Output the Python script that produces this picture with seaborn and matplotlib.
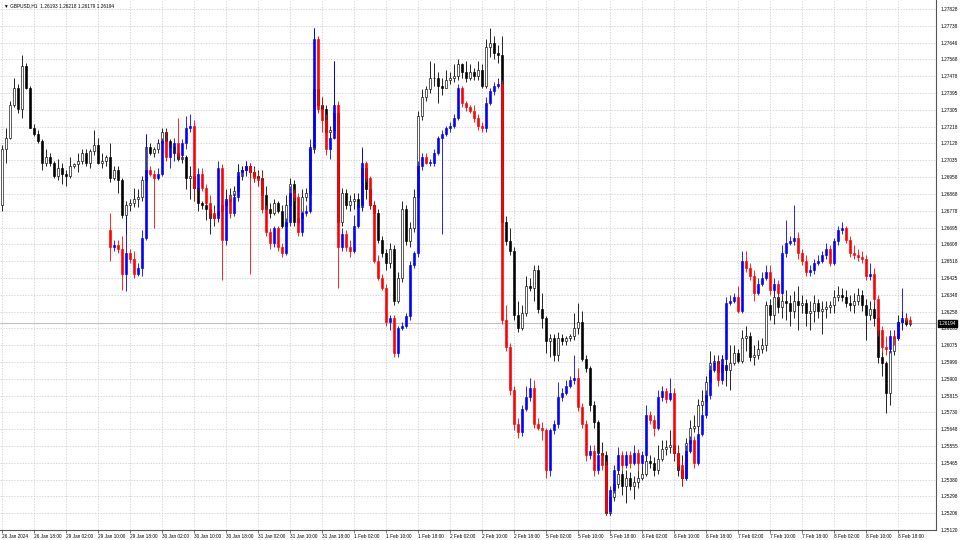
import numpy as np
import matplotlib
matplotlib.use("Agg")
import matplotlib.pyplot as plt
import matplotlib.transforms as mtransforms
import seaborn as sns


SYMBOL = "GBPUSD,H1"
LAST_BAR = ["1.26193", "1.26218", "1.26179", "1.26194"]
LAST_PRICE = 1.26194

PRICE_LABELS = ["1.27828", "1.27738", "1.27646", "1.27568", "1.27478", "1.27395", "1.27305", "1.27218",
                "1.27128", "1.27035", "1.26958", "1.26868", "1.26778", "1.26695", "1.26608", "1.26518",
                "1.26425", "1.26348", "1.26258", "1.26165", "1.26075", "1.25990", "1.25900", "1.25815",
                "1.25730", "1.25648", "1.25555", "1.25465", "1.25380", "1.25298", "1.25206", "1.25120"]

TIME_LABELS = ["26 Jan 2024", "26 Jan 18:00", "29 Jan 02:00", "29 Jan 10:00", "29 Jan 18:00",
               "30 Jan 02:00", "30 Jan 10:00", "30 Jan 18:00", "31 Jan 02:00", "31 Jan 10:00",
               "31 Jan 18:00", "1 Feb 02:00", "1 Feb 10:00", "1 Feb 18:00", "2 Feb 02:00",
               "2 Feb 10:00", "2 Feb 18:00", "5 Feb 02:00", "5 Feb 10:00", "5 Feb 18:00",
               "6 Feb 02:00", "6 Feb 10:00", "6 Feb 18:00", "7 Feb 02:00", "7 Feb 10:00",
               "7 Feb 18:00", "8 Feb 02:00", "8 Feb 10:00", "8 Feb 18:00"]

# GBPUSD H1 candles (black / white)
BLK_OPEN = [
    1.2681, 1.2710, 1.2716, 1.2733, 1.2742, 1.2731, 1.2753, 1.2742, 1.2721, 1.2718,
    1.2714, 1.2703, 1.2706, 1.2703, 1.2696, 1.2700, 1.2697, 1.2696, 1.2701, 1.2702,
    1.2704, 1.2708, 1.2703, 1.2709, 1.2712, 1.2703, 1.2704, 1.2706, 1.2695, 1.2699,
    1.2694, 1.2676, 1.2681, 1.2682, 1.2684, 1.2685, 1.2694, 1.2711, 1.2708, 1.2710,
    1.2713, 1.2719, 1.2714, 1.2711, 1.2708, 1.2705, 1.2706, 1.2695, 1.2696, 1.2690,
    1.2682, 1.2681, 1.2679, 1.2674, 1.2676, 1.2678, 1.2681, 1.2683, 1.2686, 1.2688,
    1.2696, 1.2699, 1.2701, 1.2698, 1.2696, 1.2695, 1.2686, 1.2679, 1.2677, 1.2682,
    1.2678, 1.2670, 1.2681, 1.2692, 1.2672, 1.2674, 1.2685, 1.2687, 1.2710, 1.2741,
    1.2733, 1.2731, 1.2719, 1.2720, 1.2729, 1.2672, 1.2687, 1.2681, 1.2683, 1.2684,
    1.2680, 1.2700, 1.2689, 1.2681, 1.2677, 1.2663, 1.2656, 1.2651, 1.2658, 1.2631,
    1.2643, 1.2679, 1.2662, 1.2669, 1.2685, 1.2727, 1.2737, 1.2741, 1.2747, 1.2747,
    1.2743, 1.2742, 1.2746, 1.2747, 1.2748, 1.2754, 1.2750, 1.2747, 1.2750, 1.2748,
    1.2751, 1.2743, 1.2763, 1.2765, 1.2760, 1.2759, 1.2672, 1.2662, 1.2657, 1.2624,
    1.2617, 1.2625, 1.2639, 1.2638, 1.2647, 1.2627, 1.2622, 1.2610, 1.2612, 1.2603,
    1.2612, 1.2610, 1.2612, 1.2613, 1.2617, 1.2620, 1.2601, 1.2596, 1.2577, 1.2568,
    1.2552, 1.2551, 1.2521, 1.2529, 1.2536, 1.2541, 1.2535, 1.2539, 1.2535, 1.2537,
    1.2539, 1.2541, 1.2548, 1.2547, 1.2543, 1.2549, 1.2554, 1.2555, 1.2556, 1.2552,
    1.2543, 1.2539, 1.2557, 1.2565, 1.2566, 1.2577, 1.2579, 1.2589, 1.2599, 1.2600,
    1.2594, 1.2598, 1.2595, 1.2599, 1.2604, 1.2600, 1.2612, 1.2613, 1.2602, 1.2603,
    1.2606, 1.2608, 1.2629, 1.2624, 1.2633, 1.2628, 1.2631, 1.2630, 1.2626, 1.2631,
    1.2629, 1.2630, 1.2625, 1.2626, 1.2630, 1.2626, 1.2627, 1.2628, 1.2629, 1.2633,
    1.2634, 1.2633, 1.2630, 1.2629, 1.2631, 1.2634, 1.2629, 1.2624, 1.2627, 1.2622,
    1.2602, 1.2599, 1.2583, 1.2605, 1.2612, 1.2620, 1.2621, 1.26193]
BLK_HIGH = [
    1.2712, 1.2721, 1.2735, 1.2747, 1.2744, 1.2759, 1.2755, 1.2743, 1.2723, 1.2720,
    1.2715, 1.2710, 1.2708, 1.2704, 1.2705, 1.2703, 1.2699, 1.2706, 1.2703, 1.2708,
    1.2710, 1.2710, 1.2710, 1.2720, 1.2716, 1.2708, 1.2707, 1.2713, 1.2701, 1.2701,
    1.2695, 1.2683, 1.2684, 1.2690, 1.2689, 1.2696, 1.2718, 1.2713, 1.2711, 1.2715,
    1.2721, 1.2721, 1.2715, 1.2712, 1.2710, 1.2710, 1.2707, 1.2701, 1.2698, 1.2691,
    1.2683, 1.2683, 1.2682, 1.2681, 1.2683, 1.2686, 1.2689, 1.2690, 1.2691, 1.2702,
    1.2701, 1.2704, 1.2703, 1.2701, 1.2699, 1.2699, 1.2691, 1.2682, 1.2684, 1.2683,
    1.2681, 1.2686, 1.2695, 1.2694, 1.2678, 1.2689, 1.2690, 1.2712, 1.2773, 1.2746,
    1.2737, 1.2733, 1.2722, 1.2756, 1.2731, 1.2690, 1.2689, 1.2686, 1.2687, 1.2687,
    1.2710, 1.2702, 1.2691, 1.2683, 1.2679, 1.2665, 1.2658, 1.2661, 1.2660, 1.2646,
    1.2683, 1.2681, 1.2672, 1.2689, 1.2730, 1.2741, 1.2743, 1.2756, 1.2755, 1.2750,
    1.2747, 1.2751, 1.2750, 1.2754, 1.2757, 1.2755, 1.2756, 1.2754, 1.2752, 1.2756,
    1.2754, 1.2767, 1.2773, 1.2769, 1.2764, 1.2769, 1.2675, 1.2669, 1.2659, 1.2631,
    1.2629, 1.2644, 1.2643, 1.2650, 1.2650, 1.2635, 1.2623, 1.2614, 1.2614, 1.2615,
    1.2614, 1.2613, 1.2614, 1.2625, 1.2630, 1.2626, 1.2603, 1.2597, 1.2579, 1.2569,
    1.2558, 1.2553, 1.2533, 1.2540, 1.2546, 1.2543, 1.2543, 1.2542, 1.2540, 1.2543,
    1.2546, 1.2552, 1.2551, 1.2550, 1.2556, 1.2559, 1.2559, 1.2564, 1.2559, 1.2556,
    1.2551, 1.2560, 1.2569, 1.2572, 1.2580, 1.2585, 1.2592, 1.2605, 1.2603, 1.2603,
    1.2603, 1.2600, 1.2608, 1.2608, 1.2606, 1.2616, 1.2618, 1.2615, 1.2608, 1.2611,
    1.2612, 1.2631, 1.2632, 1.2637, 1.2637, 1.2634, 1.2637, 1.2634, 1.2636, 1.2639,
    1.2634, 1.2632, 1.2631, 1.2634, 1.2632, 1.2631, 1.2631, 1.2631, 1.2637, 1.2639,
    1.2638, 1.2637, 1.2634, 1.2635, 1.2638, 1.2637, 1.2632, 1.2631, 1.2631, 1.2624,
    1.2605, 1.2600, 1.2608, 1.2616, 1.2624, 1.2626, 1.2625, 1.26218]
BLK_LOW = [
    1.2678, 1.2703, 1.2715, 1.2732, 1.2729, 1.2726, 1.2741, 1.2721, 1.2717, 1.2713,
    1.2699, 1.2701, 1.2701, 1.2695, 1.2694, 1.2692, 1.2691, 1.2695, 1.2700, 1.2698,
    1.2702, 1.2701, 1.2700, 1.2707, 1.2702, 1.2700, 1.2701, 1.2693, 1.2694, 1.2687,
    1.2674, 1.2666, 1.2678, 1.2680, 1.2680, 1.2683, 1.2693, 1.2707, 1.2706, 1.2708,
    1.2712, 1.2713, 1.2708, 1.2707, 1.2704, 1.2703, 1.2689, 1.2684, 1.2683, 1.2678,
    1.2679, 1.2673, 1.2666, 1.2670, 1.2673, 1.2672, 1.2676, 1.2681, 1.2683, 1.2686,
    1.2694, 1.2696, 1.2695, 1.2693, 1.2691, 1.2683, 1.2677, 1.2674, 1.2676, 1.2677,
    1.2669, 1.2668, 1.2679, 1.2670, 1.2669, 1.2672, 1.2683, 1.2686, 1.2708, 1.2730,
    1.2728, 1.2715, 1.2716, 1.2717, 1.2670, 1.2670, 1.2679, 1.2678, 1.2679, 1.2677,
    1.2678, 1.2684, 1.2679, 1.2674, 1.2661, 1.2654, 1.2647, 1.2648, 1.2629, 1.2630,
    1.2641, 1.2660, 1.2659, 1.2667, 1.2683, 1.2725, 1.2735, 1.2739, 1.2743, 1.2734,
    1.2738, 1.2742, 1.2744, 1.2745, 1.2746, 1.2747, 1.2745, 1.2746, 1.2746, 1.2746,
    1.2742, 1.2742, 1.2758, 1.2757, 1.2755, 1.2670, 1.2660, 1.2655, 1.2621, 1.2615,
    1.2616, 1.2623, 1.2636, 1.2631, 1.2625, 1.2617, 1.2604, 1.2602, 1.2600, 1.2600,
    1.2608, 1.2608, 1.2610, 1.2611, 1.2614, 1.2600, 1.2594, 1.2574, 1.2565, 1.2551,
    1.2547, 1.2520, 1.2520, 1.2527, 1.2534, 1.2530, 1.2526, 1.2533, 1.2528, 1.2534,
    1.2538, 1.2540, 1.2544, 1.2540, 1.2541, 1.2548, 1.2551, 1.2552, 1.2548, 1.2540,
    1.2535, 1.2538, 1.2555, 1.2563, 1.2564, 1.2574, 1.2578, 1.2587, 1.2598, 1.2592,
    1.2590, 1.2587, 1.2585, 1.2598, 1.2599, 1.2599, 1.2605, 1.2600, 1.2598, 1.2601,
    1.2604, 1.2605, 1.2621, 1.2619, 1.2625, 1.2622, 1.2621, 1.2618, 1.2622, 1.2616,
    1.2625, 1.2618, 1.2616, 1.2620, 1.2622, 1.2614, 1.2622, 1.2625, 1.2625, 1.2631,
    1.2631, 1.2628, 1.2626, 1.2625, 1.2629, 1.2626, 1.2611, 1.2621, 1.2618, 1.2599,
    1.2592, 1.2573, 1.2577, 1.2603, 1.2611, 1.2616, 1.2618, 1.26179]
BLK_CLOSE = [
    1.2710, 1.2716, 1.2733, 1.2742, 1.2731, 1.2753, 1.2742, 1.2721, 1.2718, 1.2714,
    1.2703, 1.2706, 1.2703, 1.2696, 1.2700, 1.2697, 1.2696, 1.2701, 1.2702, 1.2704,
    1.2708, 1.2703, 1.2709, 1.2712, 1.2703, 1.2704, 1.2706, 1.2695, 1.2699, 1.2694,
    1.2676, 1.2681, 1.2682, 1.2684, 1.2685, 1.2694, 1.2711, 1.2708, 1.2710, 1.2713,
    1.2719, 1.2714, 1.2711, 1.2708, 1.2705, 1.2706, 1.2695, 1.2696, 1.2690, 1.2682,
    1.2681, 1.2679, 1.2674, 1.2676, 1.2678, 1.2681, 1.2683, 1.2686, 1.2688, 1.2696,
    1.2699, 1.2701, 1.2698, 1.2696, 1.2695, 1.2686, 1.2679, 1.2677, 1.2682, 1.2678,
    1.2670, 1.2681, 1.2692, 1.2672, 1.2674, 1.2685, 1.2687, 1.2710, 1.2741, 1.2733,
    1.2731, 1.2719, 1.2720, 1.2729, 1.2672, 1.2687, 1.2681, 1.2683, 1.2684, 1.2680,
    1.2700, 1.2689, 1.2681, 1.2677, 1.2663, 1.2656, 1.2651, 1.2658, 1.2631, 1.2643,
    1.2679, 1.2662, 1.2669, 1.2685, 1.2727, 1.2737, 1.2741, 1.2747, 1.2747, 1.2743,
    1.2742, 1.2746, 1.2747, 1.2748, 1.2754, 1.2750, 1.2747, 1.2750, 1.2748, 1.2751,
    1.2743, 1.2763, 1.2765, 1.2760, 1.2759, 1.2672, 1.2662, 1.2657, 1.2624, 1.2617,
    1.2625, 1.2639, 1.2638, 1.2647, 1.2627, 1.2622, 1.2610, 1.2612, 1.2603, 1.2612,
    1.2610, 1.2612, 1.2613, 1.2617, 1.2620, 1.2601, 1.2596, 1.2577, 1.2568, 1.2552,
    1.2551, 1.2521, 1.2529, 1.2536, 1.2541, 1.2535, 1.2539, 1.2535, 1.2537, 1.2539,
    1.2541, 1.2548, 1.2547, 1.2543, 1.2549, 1.2554, 1.2555, 1.2556, 1.2552, 1.2543,
    1.2539, 1.2557, 1.2565, 1.2566, 1.2577, 1.2579, 1.2589, 1.2599, 1.2600, 1.2594,
    1.2598, 1.2595, 1.2599, 1.2604, 1.2600, 1.2612, 1.2613, 1.2602, 1.2603, 1.2606,
    1.2608, 1.2629, 1.2624, 1.2633, 1.2628, 1.2631, 1.2630, 1.2626, 1.2631, 1.2629,
    1.2630, 1.2625, 1.2626, 1.2630, 1.2626, 1.2627, 1.2628, 1.2629, 1.2633, 1.2634,
    1.2633, 1.2630, 1.2629, 1.2631, 1.2634, 1.2629, 1.2624, 1.2627, 1.2622, 1.2602,
    1.2599, 1.2583, 1.2605, 1.2612, 1.2620, 1.2621, 1.2619, 1.26194]

# overlay candles (blue up / red down), they start at bar 27
RB_FIRST_BAR = 27
RB_OPEN = [
    1.2668, 1.2659, 1.2660, 1.2658, 1.2645, 1.2656, 1.2653, 1.2645, 1.2648, 1.2664,
    1.2699, 1.2697, 1.2695, 1.2697, 1.2714, 1.2706, 1.2711, 1.2713, 1.2707, 1.2713,
    1.2721, 1.2722, 1.2690, 1.2697, 1.2690, 1.2682, 1.2677, 1.2674, 1.2700, 1.2663,
    1.2684, 1.2677, 1.2685, 1.2698, 1.2699, 1.2701, 1.2698, 1.2695, 1.2694, 1.2679,
    1.2667, 1.2661, 1.2669, 1.2659, 1.2656, 1.2672, 1.2687, 1.2685, 1.2667, 1.2677,
    1.2678, 1.2711, 1.2767, 1.2731, 1.2725, 1.2710, 1.2716, 1.2733, 1.2659, 1.2666,
    1.2659, 1.2657, 1.2670, 1.2681, 1.2703, 1.2695, 1.2681, 1.2652, 1.2643, 1.2638,
    1.2620, 1.2622, 1.2604, 1.2617, 1.2618, 1.2623, 1.2650, 1.2656, 1.2701, 1.2706,
    1.2703, 1.2703, 1.2708, 1.2716, 1.2718, 1.2721, 1.2722, 1.2726, 1.2742, 1.2734,
    1.2732, 1.2730, 1.2726, 1.2722, 1.2721, 1.2734, 1.2740, 1.2743, 1.2744, 1.2621,
    1.2607, 1.2585, 1.2567, 1.2563, 1.2575, 1.2581, 1.2586, 1.2567, 1.2565, 1.2564,
    1.2543, 1.2564, 1.2567, 1.2581, 1.2583, 1.2587, 1.2590, 1.2591, 1.2576, 1.2567,
    1.2551, 1.2553, 1.2543, 1.2551, 1.2546, 1.2522, 1.2533, 1.2543, 1.2551, 1.2546,
    1.2551, 1.2547, 1.2552, 1.2547, 1.2551, 1.2572, 1.2569, 1.2565, 1.2581, 1.2584,
    1.2580, 1.2583, 1.2552, 1.2546, 1.2539, 1.2553, 1.2559, 1.2547, 1.2562, 1.2572,
    1.2582, 1.2595, 1.2599, 1.2590, 1.2601, 1.2630, 1.2631, 1.2633, 1.2626, 1.2652,
    1.2648, 1.2644, 1.2635, 1.2640, 1.2643, 1.2646, 1.2637, 1.2640, 1.2635, 1.2656,
    1.2661, 1.2662, 1.2664, 1.2656, 1.2652, 1.2646, 1.2647, 1.2651, 1.2652, 1.2655,
    1.2658, 1.2651, 1.2662, 1.2668, 1.2669, 1.2663, 1.2656, 1.2655, 1.2654, 1.2653,
    1.2644, 1.2645, 1.2632, 1.2616, 1.2607, 1.2606, 1.2613, 1.2612, 1.2620, 1.2622,
    1.2621]
RB_HIGH = [
    1.2677, 1.2663, 1.2663, 1.2665, 1.2675, 1.2658, 1.2657, 1.2651, 1.2668, 1.2718,
    1.2701, 1.2699, 1.2700, 1.2716, 1.2720, 1.2713, 1.2716, 1.2726, 1.2715, 1.2727,
    1.2728, 1.2725, 1.2700, 1.2700, 1.2692, 1.2686, 1.2679, 1.2704, 1.2702, 1.2686,
    1.2686, 1.2687, 1.2702, 1.2701, 1.2704, 1.2703, 1.2700, 1.2698, 1.2698, 1.2681,
    1.2669, 1.2670, 1.2670, 1.2661, 1.2674, 1.2691, 1.2689, 1.2687, 1.2678, 1.2681,
    1.2715, 1.2773, 1.2769, 1.2737, 1.2728, 1.2718, 1.2756, 1.2735, 1.2669, 1.2668,
    1.2663, 1.2676, 1.2683, 1.2711, 1.2704, 1.2696, 1.2683, 1.2655, 1.2645, 1.2640,
    1.2624, 1.2624, 1.2618, 1.2620, 1.2625, 1.2652, 1.2657, 1.2704, 1.2708, 1.2708,
    1.2705, 1.2710, 1.2717, 1.2720, 1.2722, 1.2724, 1.2728, 1.2744, 1.2743, 1.2735,
    1.2733, 1.2733, 1.2728, 1.2724, 1.2737, 1.2742, 1.2745, 1.2747, 1.2746, 1.2629,
    1.2609, 1.2587, 1.2570, 1.2577, 1.2587, 1.2591, 1.2590, 1.2570, 1.2568, 1.2565,
    1.2565, 1.2569, 1.2589, 1.2586, 1.2590, 1.2592, 1.2603, 1.2596, 1.2578, 1.2569,
    1.2556, 1.2556, 1.2553, 1.2553, 1.2548, 1.2535, 1.2546, 1.2555, 1.2553, 1.2553,
    1.2553, 1.2556, 1.2554, 1.2553, 1.2577, 1.2574, 1.2572, 1.2585, 1.2587, 1.2586,
    1.2591, 1.2586, 1.2555, 1.2548, 1.2556, 1.2561, 1.2561, 1.2565, 1.2574, 1.2585,
    1.2598, 1.2601, 1.2601, 1.2603, 1.2633, 1.2634, 1.2635, 1.2639, 1.2657, 1.2657,
    1.2651, 1.2647, 1.2643, 1.2646, 1.2650, 1.2650, 1.2643, 1.2642, 1.2660, 1.2673,
    1.2665, 1.2681, 1.2667, 1.2658, 1.2655, 1.2650, 1.2653, 1.2655, 1.2657, 1.2661,
    1.2660, 1.2664, 1.2670, 1.2672, 1.2670, 1.2665, 1.2660, 1.2658, 1.2657, 1.2655,
    1.2651, 1.2648, 1.2634, 1.2618, 1.2613, 1.2616, 1.2616, 1.2621, 1.2638, 1.2624,
    1.2623]
RB_LOW = [
    1.2652, 1.2657, 1.2656, 1.2637, 1.2636, 1.2651, 1.2643, 1.2644, 1.2644, 1.2663,
    1.2696, 1.2669, 1.2694, 1.2696, 1.2704, 1.2700, 1.2704, 1.2705, 1.2705, 1.2710,
    1.2719, 1.2683, 1.2688, 1.2688, 1.2681, 1.2674, 1.2672, 1.2672, 1.2642, 1.2660,
    1.2674, 1.2675, 1.2683, 1.2696, 1.2697, 1.2645, 1.2693, 1.2691, 1.2677, 1.2665,
    1.2658, 1.2659, 1.2657, 1.2654, 1.2655, 1.2670, 1.2683, 1.2665, 1.2665, 1.2675,
    1.2677, 1.2710, 1.2729, 1.2719, 1.2707, 1.2705, 1.2715, 1.2638, 1.2657, 1.2657,
    1.2654, 1.2656, 1.2669, 1.2679, 1.2693, 1.2679, 1.2651, 1.2642, 1.2637, 1.2618,
    1.2616, 1.2602, 1.2602, 1.2616, 1.2617, 1.2621, 1.2648, 1.2654, 1.2699, 1.2702,
    1.2701, 1.2701, 1.2707, 1.2666, 1.2717, 1.2719, 1.2721, 1.2725, 1.2732, 1.2730,
    1.2729, 1.2724, 1.2720, 1.2719, 1.2719, 1.2733, 1.2738, 1.2742, 1.2619, 1.2605,
    1.2582, 1.2564, 1.2560, 1.2561, 1.2574, 1.2579, 1.2565, 1.2564, 1.2559, 1.2539,
    1.2540, 1.2562, 1.2565, 1.2579, 1.2582, 1.2586, 1.2588, 1.2574, 1.2565, 1.2548,
    1.2549, 1.2540, 1.2541, 1.2543, 1.2520, 1.2520, 1.2531, 1.2542, 1.2543, 1.2544,
    1.2544, 1.2546, 1.2543, 1.2546, 1.2549, 1.2567, 1.2561, 1.2564, 1.2579, 1.2578,
    1.2579, 1.2549, 1.2543, 1.2535, 1.2538, 1.2552, 1.2544, 1.2546, 1.2561, 1.2570,
    1.2580, 1.2594, 1.2587, 1.2588, 1.2590, 1.2629, 1.2630, 1.2625, 1.2625, 1.2646,
    1.2642, 1.2631, 1.2634, 1.2639, 1.2642, 1.2634, 1.2635, 1.2632, 1.2634, 1.2654,
    1.2660, 1.2660, 1.2653, 1.2650, 1.2644, 1.2644, 1.2645, 1.2650, 1.2651, 1.2653,
    1.2649, 1.2650, 1.2660, 1.2666, 1.2661, 1.2654, 1.2653, 1.2652, 1.2651, 1.2642,
    1.2642, 1.2630, 1.2613, 1.2604, 1.2603, 1.2604, 1.2608, 1.2611, 1.2617, 1.2620,
    1.2619]
RB_CLOSE = [
    1.2659, 1.2660, 1.2658, 1.2645, 1.2656, 1.2653, 1.2645, 1.2648, 1.2664, 1.2699,
    1.2697, 1.2695, 1.2697, 1.2714, 1.2706, 1.2711, 1.2713, 1.2707, 1.2713, 1.2721,
    1.2722, 1.2690, 1.2697, 1.2690, 1.2682, 1.2677, 1.2674, 1.2700, 1.2663, 1.2684,
    1.2677, 1.2685, 1.2698, 1.2699, 1.2701, 1.2698, 1.2695, 1.2694, 1.2679, 1.2667,
    1.2661, 1.2669, 1.2659, 1.2656, 1.2672, 1.2687, 1.2685, 1.2667, 1.2677, 1.2678,
    1.2711, 1.2767, 1.2731, 1.2725, 1.2710, 1.2716, 1.2733, 1.2659, 1.2666, 1.2659,
    1.2657, 1.2670, 1.2681, 1.2703, 1.2695, 1.2681, 1.2652, 1.2643, 1.2638, 1.2620,
    1.2622, 1.2604, 1.2617, 1.2618, 1.2623, 1.2650, 1.2656, 1.2701, 1.2706, 1.2703,
    1.2703, 1.2708, 1.2716, 1.2718, 1.2721, 1.2722, 1.2726, 1.2742, 1.2734, 1.2732,
    1.2730, 1.2726, 1.2722, 1.2721, 1.2734, 1.2740, 1.2743, 1.2744, 1.2621, 1.2607,
    1.2585, 1.2567, 1.2563, 1.2575, 1.2581, 1.2586, 1.2567, 1.2565, 1.2564, 1.2543,
    1.2564, 1.2567, 1.2581, 1.2583, 1.2587, 1.2590, 1.2591, 1.2576, 1.2567, 1.2551,
    1.2553, 1.2543, 1.2551, 1.2546, 1.2522, 1.2533, 1.2543, 1.2551, 1.2546, 1.2551,
    1.2547, 1.2552, 1.2547, 1.2551, 1.2572, 1.2569, 1.2565, 1.2581, 1.2584, 1.2580,
    1.2583, 1.2552, 1.2546, 1.2539, 1.2553, 1.2559, 1.2547, 1.2562, 1.2572, 1.2582,
    1.2595, 1.2599, 1.2590, 1.2601, 1.2630, 1.2631, 1.2633, 1.2626, 1.2652, 1.2648,
    1.2644, 1.2635, 1.2640, 1.2643, 1.2646, 1.2637, 1.2640, 1.2635, 1.2656, 1.2661,
    1.2662, 1.2664, 1.2656, 1.2652, 1.2646, 1.2647, 1.2651, 1.2652, 1.2655, 1.2658,
    1.2651, 1.2662, 1.2668, 1.2669, 1.2663, 1.2656, 1.2655, 1.2654, 1.2653, 1.2644,
    1.2645, 1.2632, 1.2616, 1.2607, 1.2606, 1.2613, 1.2612, 1.2620, 1.2622, 1.2621,
    1.2620]


def draw_candles(ax, xs, o, h, l, c, up_face, up_edge, dn_face, dn_edge, z):
    o, h, l, c = (np.asarray(v, dtype=float) for v in (o, h, l, c))
    up = c >= o
    edges = list(np.where(up, up_edge, dn_edge))
    faces = list(np.where(up, up_face, dn_face))
    ax.vlines(xs, l, h, colors=edges, lw=0.6, zorder=z)
    body = np.maximum(np.abs(c - o), 0.00002)
    ax.bar(xs, body, bottom=np.minimum(o, c), width=0.72, color=faces,
           edgecolor=edges, linewidth=0.45, zorder=z + 0.5)


def main():
    sns.set_theme(style="white")
    plt.rcParams["font.family"] = ["Liberation Sans", "DejaVu Sans"]

    fig = plt.figure(figsize=(9.6, 5.4), dpi=100, facecolor="white")
    ax = fig.add_axes([0, 10 / 540, 936 / 960, 530 / 540])
    ax.set_facecolor("white")

    n_blk = len(BLK_CLOSE)
    xs_blk = np.arange(n_blk)
    xs_rb = np.arange(RB_FIRST_BAR, RB_FIRST_BAR + len(RB_CLOSE))

    ax.axhline(LAST_PRICE, color="#c0c0c0", lw=0.8, zorder=0.8)
    draw_candles(ax, xs_blk, BLK_OPEN, BLK_HIGH, BLK_LOW, BLK_CLOSE,
                 "white", "black", "black", "black", z=2)
    draw_candles(ax, xs_rb, RB_OPEN, RB_HIGH, RB_LOW, RB_CLOSE,
                 "#0000ff", "#0000ff", "#ff0000", "#ff0000", z=4)

    ax.set_xlim(-0.5, 233.5)
    ax.set_ylim(1.25120, 1.27875)

    # price scale on the right
    ticks_y = np.linspace(float(PRICE_LABELS[0]), float(PRICE_LABELS[-1]), len(PRICE_LABELS))
    ax.yaxis.tick_right()
    ax.set_yticks(ticks_y)
    ax.set_yticklabels(PRICE_LABELS, fontsize=3.4)

    ticks_x = np.arange(0, 8 * len(TIME_LABELS), 8)
    ax.set_xticks(ticks_x)
    ax.set_xticklabels(TIME_LABELS, fontsize=3.4, ha="left")

    ax.tick_params(axis="both", direction="out", length=2, width=0.5, color="#444444",
                   pad=1.2, labelcolor="black")
    ax.tick_params(axis="y", right=True, left=False, labelright=True, labelleft=False)
    ax.tick_params(axis="x", bottom=True)

    ax.grid(True, color="#c8c8c8", lw=0.5, ls=(0, (2, 2)), zorder=0)
    ax.set_axisbelow(True)

    sns.despine(ax=ax, left=True, top=True, right=False, bottom=False)
    for side in ("right", "bottom"):
        ax.spines[side].set_color("#555555")
        ax.spines[side].set_linewidth(0.8)

    # current price marker
    trans = mtransforms.blended_transform_factory(ax.transAxes, ax.transData)
    ax.text(1.003, LAST_PRICE, LAST_BAR[3], transform=trans, ha="left", va="center",
            fontsize=3.4, color="white", zorder=10, clip_on=False,
            bbox=dict(boxstyle="square,pad=0.25", fc="black", ec="black"))

    ax.text(0.004, 0.993, "\u25bc " + SYMBOL + "  " + " ".join(LAST_BAR), transform=ax.transAxes,
            ha="left", va="top", fontsize=3.4, color="black", zorder=10)

    fig.savefig("out.png", dpi=100, facecolor="white")
    plt.close(fig)


if __name__ == "__main__":
    main()
